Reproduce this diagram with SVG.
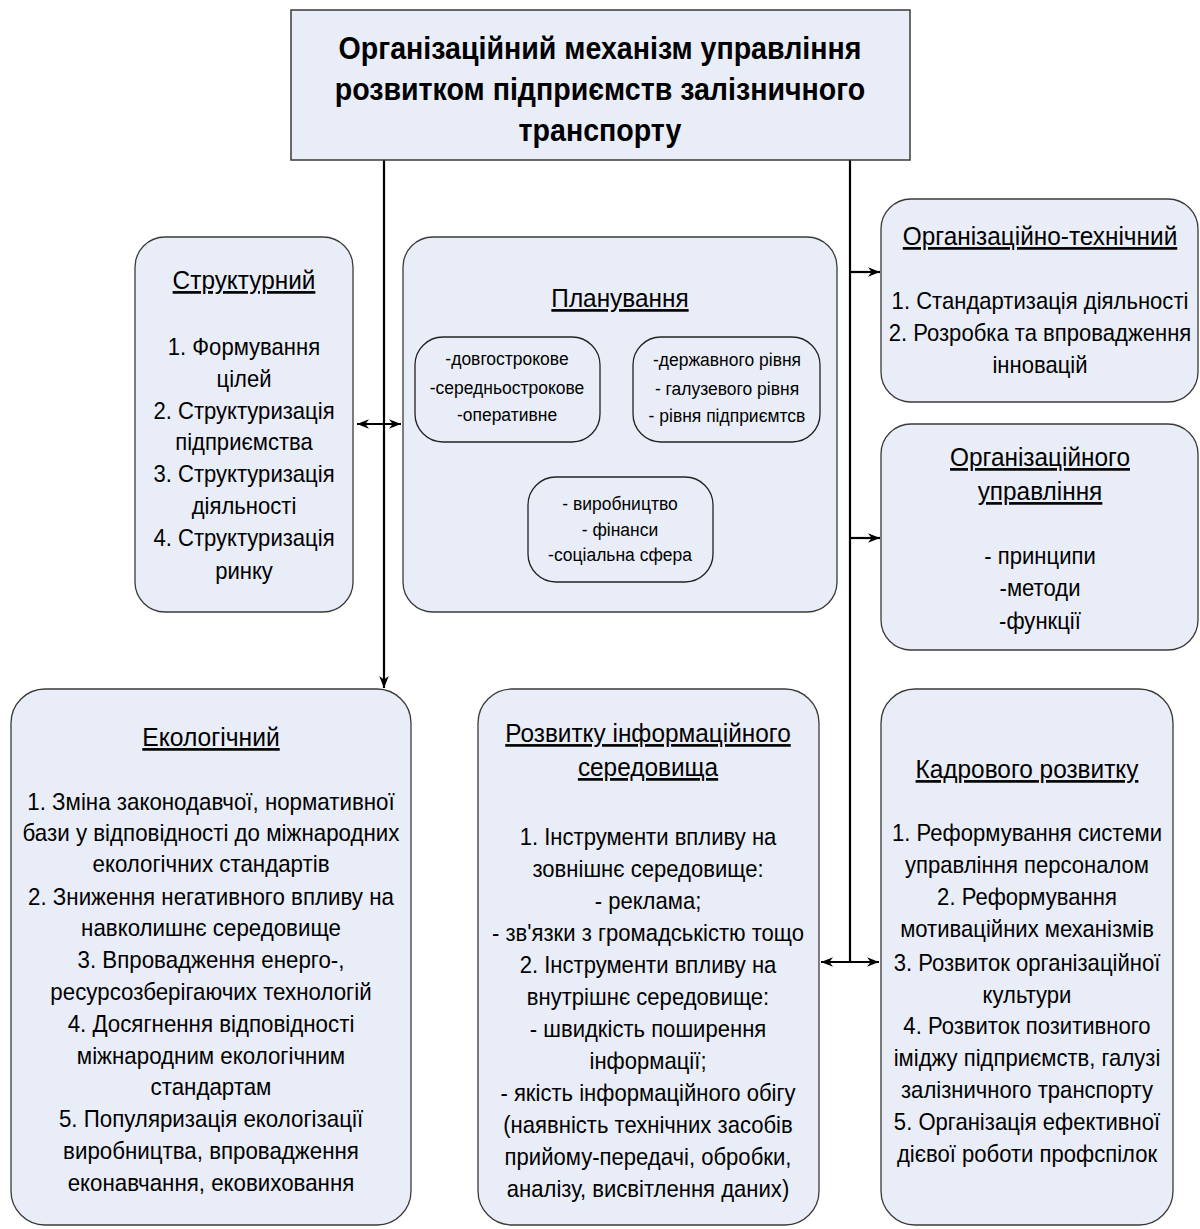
<svg xmlns="http://www.w3.org/2000/svg" width="1200" height="1229" viewBox="0 0 1200 1229">
<defs>
<style>
.box{fill:#e8edf7;stroke:#3a3a3a;stroke-width:1.3}
.ibox{fill:#e8edf7;stroke:#222;stroke-width:1.3}
.ln{stroke:#000;stroke-width:2.2;fill:none}
.t{font-family:"Liberation Sans",Arial,sans-serif;font-size:24px;fill:#000;text-anchor:middle}
.h{font-size:26.5px;text-decoration:underline}
.s{font-size:19px}
.title{font-family:"Liberation Sans",Arial,sans-serif;font-size:32px;font-weight:bold;fill:#000;text-anchor:middle}
</style>
<marker id="ah" viewBox="0 0 10 10" refX="10" refY="5" markerWidth="12" markerHeight="12" markerUnits="userSpaceOnUse" orient="auto-start-reverse">
<path d="M0,1 L10,5 L0,9 L3,5 Z" fill="#000"/>
</marker>
</defs>
<rect width="1200" height="1229" fill="#fff"/>

<g id="connectors">
<line class="ln" x1="384" y1="160" x2="384" y2="688" marker-end="url(#ah)"/>
<line class="ln" x1="850" y1="160" x2="850" y2="962"/>
<line class="ln" x1="357" y1="424" x2="401" y2="424" marker-start="url(#ah)" marker-end="url(#ah)"/>
<line class="ln" x1="850" y1="272" x2="880" y2="272" marker-end="url(#ah)"/>
<line class="ln" x1="850" y1="538" x2="880" y2="538" marker-end="url(#ah)"/>
<line class="ln" x1="821" y1="962" x2="879" y2="962" marker-start="url(#ah)" marker-end="url(#ah)"/>
<line class="ln" x1="602" y1="390" x2="631" y2="390" stroke-width="1.6" marker-start="url(#ah)" marker-end="url(#ah)"/>
<line class="ln" x1="577" y1="445" x2="600" y2="473" stroke-width="1.4" marker-start="url(#ah)" marker-end="url(#ah)"/>
<line class="ln" x1="658" y1="445" x2="634" y2="473" stroke-width="1.4" marker-start="url(#ah)" marker-end="url(#ah)"/>
</g>

<g id="title">
<rect x="291" y="10" width="619" height="150" fill="#e8edf7" stroke="#3a3a3a" stroke-width="1.5"/>
<g transform="translate(600,0) scale(0.893,1)">
<text class="title" x="0" y="59">Організаційний механізм управління</text>
<text class="title" x="0" y="100">розвитком підприємств залізничного</text>
<text class="title" x="0" y="141">транспорту</text>
</g>
</g>

<g id="structural">
<rect class="box" x="135" y="237" width="218" height="375" rx="30"/>
<g transform="translate(244,0) scale(0.92,1)">
<text class="t h" x="0" y="289">Структурний</text>
<text class="t" x="0" y="355">1. Формування</text>
<text class="t" x="0" y="387">цілей</text>
<text class="t" x="0" y="419">2. Структуризація</text>
<text class="t" x="0" y="450">підприємства</text>
<text class="t" x="0" y="482">3. Структуризація</text>
<text class="t" x="0" y="514">діяльності</text>
<text class="t" x="0" y="546">4. Структуризація</text>
<text class="t" x="0" y="579">ринку</text>
</g>
</g>

<g id="planning">
<rect class="box" x="403" y="237" width="434" height="375" rx="30"/>
<g transform="translate(620,0) scale(0.92,1)">
<text class="t h" x="0" y="307">Планування</text>
</g>
</g>

<g id="plan-terms">
<rect class="ibox" x="415" y="337" width="185" height="105" rx="28"/>
<g transform="translate(507,0) scale(0.92,1)">
<text class="t s" x="0" y="365">-довгострокове</text>
<text class="t s" x="0" y="394">-середньострокове</text>
<text class="t s" x="0" y="421">-оперативне</text>
</g>
</g>

<g id="plan-levels">
<rect class="ibox" x="633" y="337" width="187" height="105" rx="28"/>
<g transform="translate(727,0) scale(0.92,1)">
<text class="t s" x="0" y="366">-державного рівня</text>
<text class="t s" x="0" y="395">- галузевого рівня</text>
<text class="t s" x="0" y="422">- рівня підприємтсв</text>
</g>
</g>

<g id="plan-areas">
<rect class="ibox" x="528" y="477" width="185" height="105" rx="28"/>
<g transform="translate(620,0) scale(0.92,1)">
<text class="t s" x="0" y="510">- виробництво</text>
<text class="t s" x="0" y="536">- фінанси</text>
<text class="t s" x="0" y="561">-соціальна сфера</text>
</g>
</g>

<g id="orgtech">
<rect class="box" x="881" y="199" width="317" height="203" rx="30"/>
<g transform="translate(1040,0) scale(0.92,1)">
<text class="t h" x="0" y="245">Організаційно-технічний</text>
<text class="t" x="0" y="309">1. Стандартизація діяльності</text>
<text class="t" x="0" y="341">2. Розробка та впровадження</text>
<text class="t" x="0" y="373">інновацій</text>
</g>
</g>

<g id="orgmgmt">
<rect class="box" x="881" y="424" width="317" height="226" rx="30"/>
<g transform="translate(1040,0) scale(0.92,1)">
<text class="t h" x="0" y="466">Організаційного</text>
<text class="t h" x="0" y="500">управління</text>
<text class="t" x="0" y="564">- принципи</text>
<text class="t" x="0" y="596">-методи</text>
<text class="t" x="0" y="629">-функції</text>
</g>
</g>

<g id="ecological">
<rect class="box" x="11" y="689" width="400" height="536" rx="34"/>
<g transform="translate(211,0) scale(0.93,1)">
<text class="t h" x="0" y="746">Екологічний</text>
<text class="t" x="0" y="810">1. Зміна законодавчої, нормативної</text>
<text class="t" x="0" y="841">бази у відповідності до міжнародних</text>
<text class="t" x="0" y="872">екологічних стандартів</text>
<text class="t" x="0" y="905">2. Зниження негативного впливу на</text>
<text class="t" x="0" y="936">навколишнє середовище</text>
<text class="t" x="0" y="968">3. Впровадження енерго-,</text>
<text class="t" x="0" y="1000">ресурсозберігаючих технологій</text>
<text class="t" x="0" y="1032">4. Досягнення відповідності</text>
<text class="t" x="0" y="1064">міжнародним екологічним</text>
<text class="t" x="0" y="1095">стандартам</text>
<text class="t" x="0" y="1127">5. Популяризація екологізації</text>
<text class="t" x="0" y="1159">виробництва, впровадження</text>
<text class="t" x="0" y="1191">еконавчання, ековиховання</text>
</g>
</g>

<g id="info">
<rect class="box" x="478" y="689" width="341" height="536" rx="34"/>
<g transform="translate(648,0) scale(0.92,1)">
<text class="t h" x="0" y="742">Розвитку інформаційного</text>
<text class="t h" x="0" y="776">середовища</text>
<text class="t" x="0" y="845">1. Інструменти впливу на</text>
<text class="t" x="0" y="877">зовнішнє середовище:</text>
<text class="t" x="0" y="909">- реклама;</text>
<text class="t" x="0" y="941">- зв'язки з громадськістю тощо</text>
<text class="t" x="0" y="973">2. Інструменти впливу на</text>
<text class="t" x="0" y="1005">внутрішнє середовище:</text>
<text class="t" x="0" y="1037">- швидкість поширення</text>
<text class="t" x="0" y="1069">інформації;</text>
<text class="t" x="0" y="1101">- якість інформаційного обігу</text>
<text class="t" x="0" y="1133">(наявність технічних засобів</text>
<text class="t" x="0" y="1165">прийому-передачі, обробки,</text>
<text class="t" x="0" y="1197">аналізу, висвітлення даних)</text>
</g>
</g>

<g id="hr">
<rect class="box" x="881" y="689" width="292" height="536" rx="34"/>
<g transform="translate(1027,0) scale(0.92,1)">
<text class="t h" x="0" y="778">Кадрового розвитку</text>
<text class="t" x="0" y="841">1. Реформування системи</text>
<text class="t" x="0" y="873">управління персоналом</text>
<text class="t" x="0" y="905">2. Реформування</text>
<text class="t" x="0" y="937">мотиваційних механізмів</text>
<text class="t" x="0" y="971">3. Розвиток організаційної</text>
<text class="t" x="0" y="1003">культури</text>
<text class="t" x="0" y="1034">4. Розвиток позитивного</text>
<text class="t" x="0" y="1066">іміджу підприємств, галузі</text>
<text class="t" x="0" y="1098">залізничного транспорту</text>
<text class="t" x="0" y="1130">5. Організація ефективної</text>
<text class="t" x="0" y="1162">дієвої роботи профспілок</text>
</g>
</g>
</svg>
